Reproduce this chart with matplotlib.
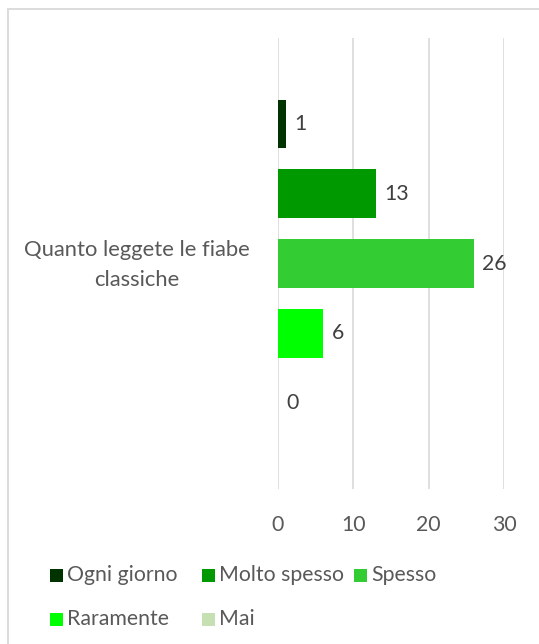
import matplotlib.pyplot as plt
from matplotlib.patches import Rectangle

# survey answers for a single question, one bar per frequency
category = "Quanto leggete le fiabe\nclassiche"
answers = ["Ogni giorno", "Molto spesso", "Spesso", "Raramente", "Mai"]
counts = [1, 13, 26, 6, 0]
colors = ["#003300", "#009900", "#33CC33", "#00FF00", "#C6E0B4"]
xticks = [0, 10, 20, 30]

W, H = 539, 644
plt.rcParams['font.family'] = ['Lato', 'DejaVu Sans']
FS = 15.3
TXT = "#595959"

fig = plt.figure(figsize=(W / 100, H / 100), dpi=100)
fig.patch.set_facecolor("white")

# chart frame (runs off the right and bottom edges)
fig.add_artist(Rectangle((8 / W, -0.05), 1.1, 1 - 9 / H + 0.05,
                         transform=fig.transFigure, fill=False,
                         edgecolor="#D9D9D9", lw=1.3))

ax = fig.add_axes([278 / W, 1 - 489 / H, (504 - 278) / W, (489 - 38) / H])
ax.set_xlim(0, 30)
ax.set_ylim(1, 0)

step = 0.155
height = 0.107
for i, (name, val, col) in enumerate(zip(answers, counts, colors)):
    yc = 0.5 + (i - 2) * step
    ax.barh(yc, val, height=height, color=col, zorder=2)
    ax.annotate(str(val), (val, yc), xytext=(6, 0), textcoords="offset points",
                va="center", ha="left", fontsize=FS, color="#404040")

ax.set_xticks(xticks)
ax.set_yticks([])
ax.grid(axis="x", color="#D9D9D9", lw=1.2, zorder=0)
ax.tick_params(axis="x", length=0, pad=19, labelsize=FS, labelcolor=TXT)
for s in ax.spines.values():
    s.set_visible(False)

fig.text(137 / W, 1 - 265 / H, category, ha="center", va="center",
         fontsize=15.8, color=TXT, linespacing=1.6)

# legend laid out in three equal columns
col_w, sq = 152, 13
for i, (name, col) in enumerate(zip(answers, colors)):
    r, c = divmod(i, 3)
    x0 = 50 + c * col_w
    yc = 575 + r * 44
    fig.add_artist(Rectangle((x0 / W, 1 - (yc + sq / 2) / H), sq / W, sq / H,
                             transform=fig.transFigure, color=col, lw=0))
    fig.text((x0 + 17) / W, 1 - yc / H, name, ha="left", va="center",
             fontsize=FS, color=TXT)

fig.savefig("out.png", dpi=100)
